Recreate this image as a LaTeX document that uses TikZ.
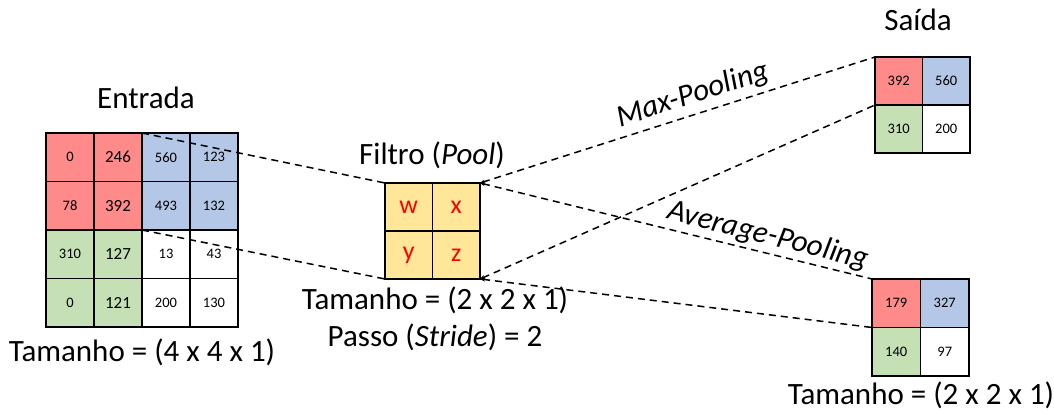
\documentclass[tikz,border=0pt]{standalone}
\usepackage{fontspec}
\setmainfont{Carlito}
\usetikzlibrary{arrows.meta}
\definecolor{cellred}{HTML}{FF8A8A}
\definecolor{cellblue}{HTML}{B4C7E7}
\definecolor{cellgreen}{HTML}{C5E0B4}
\definecolor{cellyellow}{HTML}{FFE699}
\begin{document}
\begin{tikzpicture}[x=1pt,y=-1pt,
  cell/.style={draw=black,line width=1.8pt,minimum width=48pt,minimum height=48.5pt,inner sep=0pt,outer sep=0pt},
  fcell/.style={cell,fill=cellyellow,minimum width=47.5pt,minimum height=48pt,text=red,font=\fontsize{26}{28}\selectfont},
  ocell/.style={cell,minimum width=47.5pt,minimum height=48pt,font=\fontsize{14.5}{16}\selectfont},
  big/.style={font=\fontsize{17}{19}\selectfont},
  small/.style={font=\fontsize{14.5}{16}\selectfont},
  label/.style={font=\fontsize{31}{34}\selectfont,inner sep=0pt},
  link/.style={line width=1.5pt,dash pattern=on 7pt off 5pt},
  tip/.style={{Stealth[length=5pt,width=4pt]}-}]
\useasboundingbox (0,0) rectangle (1054,414);

% input feature map (4 x 4)
\node[cell,fill=cellred,small] (i00) at (70,157.25) {0};
\node[cell,fill=cellred,big]   (i10) at (118,157.25) {246};
\node[cell,fill=cellblue,small] (i20) at (166,157.25) {560};
\node[cell,fill=cellblue,small] (i30) at (214,157.25) {123};
\node[cell,fill=cellred,small] (i01) at (70,205.75) {78};
\node[cell,fill=cellred,big]   (i11) at (118,205.75) {392};
\node[cell,fill=cellblue,small] (i21) at (166,205.75) {493};
\node[cell,fill=cellblue,small] (i31) at (214,205.75) {132};
\node[cell,fill=cellgreen,small] (i02) at (70,254.25) {310};
\node[cell,fill=cellgreen,big]   (i12) at (118,254.25) {127};
\node[cell,fill=white,small] (i22) at (166,254.25) {13};
\node[cell,fill=white,small] (i32) at (214,254.25) {43};
\node[cell,fill=cellgreen,small] (i03) at (70,302.75) {0};
\node[cell,fill=cellgreen,big]   (i13) at (118,302.75) {121};
\node[cell,fill=white,small] (i23) at (166,302.75) {200};
\node[cell,fill=white,small] (i33) at (214,302.75) {130};

% pooling filter (2 x 2)
\node[fcell] (fw) at (408.75,207) {w};
\node[fcell] (fx) at (456.25,207) {x};
\node[fcell] (fy) at (408.75,255) {y};
\node[fcell] (fz) at (456.25,255) {z};

% max-pooling output
\node[ocell,fill=cellred]   (m00) at (898.75,81) {392};
\node[ocell,fill=cellblue]  (m10) at (946.25,81) {560};
\node[ocell,fill=cellgreen] (m01) at (898.75,129) {310};
\node[ocell,fill=white]     (m11) at (946.25,129) {200};

% average-pooling output
\node[ocell,fill=cellred,minimum width=48.5pt,minimum height=48.5pt]   (a00) at (896.25,303.25) {179};
\node[ocell,fill=cellblue,minimum width=48.5pt,minimum height=48.5pt]  (a10) at (944.75,303.25) {327};
\node[ocell,fill=cellgreen,minimum width=48.5pt,minimum height=48.5pt] (a01) at (896.25,351.75) {140};
\node[ocell,fill=white,minimum width=48.5pt,minimum height=48.5pt]     (a11) at (944.75,351.75) {97};

% connectors
\draw[link] (i10.north east) -- (fw.north west);
\draw[link] (i11.south east) -- (fy.south west);
\draw[link,tip] (fx.north east) -- (m00.north west);
\draw[link,tip] (fz.south east) -- (m00.south west);
\draw[link,tip] (fx.north east) -- (a00.north west);
\draw[link,tip] (fz.south east) -- (a00.south west);

% labels
\node[label] (tin) at (146,98) {Entrada};
\node[label] (tfil) at (432,155) {Filtro (\textit{Pool})};
\node[label] (tout) at (918,20) {Saída};
\node[label] (szin) at (142,352) {Tamanho = (4 x 4 x 1)};
\node[label] (szf) at (435,300) {Tamanho = (2 x 2 x 1)};
\node[label] (stf) at (435,337) {Passo (\textit{Stride}) = 2};
\node[label] (szo) at (921,395) {Tamanho = (2 x 2 x 1)};
\node[label,rotate=18] (tmax) at (693,95) {\textit{Max-Pooling}};
\node[label,rotate=-14] (tavg) at (768,236) {\textit{Average-Pooling}};
\end{tikzpicture}
\end{document}
